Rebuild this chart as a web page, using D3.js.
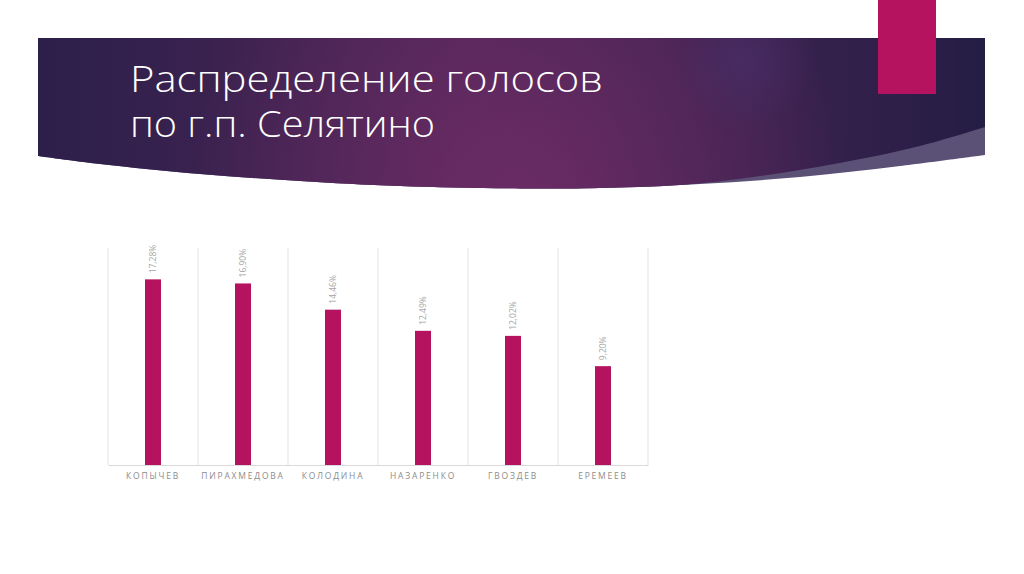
<!DOCTYPE html>
<html>
<head>
<meta charset="utf-8">
<script src="https://cdn.jsdelivr.net/npm/d3@7"></script>
<style>
  html, body { margin: 0; padding: 0; background: #fff; }
  svg { display: block; }
</style>
</head>
<body>
<script>
// chart data
var candidates = ["КОПЫЧЕВ", "ПИРАХМЕДОВА", "КОЛОДИНА", "НАЗАРЕНКО", "ГВОЗДЕВ", "ЕРЕМЕЕВ"];
var shares = [17.28, 16.90, 14.46, 12.49, 12.02, 9.20];
var shareLabels = ["17,28%", "16,90%", "14,46%", "12,49%", "12,02%", "9,20%"];
var titleLines = ["Распределение голосов", "по г.п. Селятино"];

var W = 1024, H = 574;
var svg = d3.select("body").append("svg")
    .attr("width", W)
    .attr("height", H);

var defs = svg.append("defs");

// banner gradient: dark violet at the edges, magenta glow near bottom middle
var lin = defs.append("linearGradient").attr("id", "bannerLin")
    .attr("x1", "0").attr("x2", "1").attr("y1", "0").attr("y2", "0");
lin.append("stop").attr("offset", "0").attr("stop-color", "#2c1f4a");
lin.append("stop").attr("offset", "0.45").attr("stop-color", "#4f2657");
lin.append("stop").attr("offset", "0.75").attr("stop-color", "#3c2250");
lin.append("stop").attr("offset", "1").attr("stop-color", "#241d44");

var glow = defs.append("radialGradient").attr("id", "bannerGlow")
    .attr("gradientUnits", "userSpaceOnUse")
    .attr("cx", 520).attr("cy", 200).attr("r", 330);
glow.append("stop").attr("offset", "0").attr("stop-color", "#6e2c66").attr("stop-opacity", 0.9);
glow.append("stop").attr("offset", "1").attr("stop-color", "#6e2c66").attr("stop-opacity", 0);

var spot = defs.append("radialGradient").attr("id", "bannerSpot")
    .attr("gradientUnits", "userSpaceOnUse")
    .attr("cx", 745).attr("cy", 60).attr("r", 70);
spot.append("stop").attr("offset", "0").attr("stop-color", "#47306b").attr("stop-opacity", 0.6);
spot.append("stop").attr("offset", "1").attr("stop-color", "#47306b").attr("stop-opacity", 0);

// banner shape
var edge = d3.line().curve(d3.curveCatmullRom);
var outerBottom = [[985,155],[900,166],[800,177],[700,184],[600,188],[533,188.5],[400,186],[300,181],[200,174],[100,164],[38,156]];
var innerBottom = [[985,127],[920,146],[850,161],[760,176],[680,185],[600,188],[533,188.5],[400,186],[300,181],[200,174],[100,164],[38,156]];

function banner(pts) {
  return "M38,38L985,38L" + edge(pts).slice(1) + "Z";
}

svg.append("path").attr("d", banner(outerBottom)).attr("fill", "#5b5075");
svg.append("path").attr("d", banner(innerBottom)).attr("fill", "url(#bannerLin)");
svg.append("path").attr("d", banner(innerBottom)).attr("fill", "url(#bannerGlow)");
svg.append("path").attr("d", banner(innerBottom)).attr("fill", "url(#bannerSpot)");

// pink tab at the top right
svg.append("rect")
    .attr("x", 878).attr("y", 0)
    .attr("width", 58).attr("height", 94)
    .attr("fill", "#b5135f");

// title
var titleWidths = [473, 305];
svg.selectAll(".title")
    .data(titleLines)
  .enter().append("text")
    .attr("class", "title")
    .attr("x", 130)
    .attr("y", function(d, i) { return 92 + i * 45; })
    .attr("textLength", function(d, i) { return titleWidths[i]; })
    .attr("lengthAdjust", "spacingAndGlyphs")
    .attr("fill", "#ffffff")
    .style("font-family", "'Open Sans', 'DejaVu Sans', sans-serif")
    .style("font-weight", 300)
    .style("font-size", "36px")
    .text(function(d) { return d; });

// chart area
var plotLeft = 108, plotRight = 648, plotTop = 248, plotBottom = 465;

var x = d3.scaleBand()
    .domain(candidates)
    .range([plotLeft, plotRight])
    .paddingInner(0)
    .paddingOuter(0);

var y = d3.scaleLinear()
    .domain([0, 20.2])
    .range([plotBottom, plotTop]);

var barW = 16;

// vertical separators between categories
var seps = [plotLeft].concat(candidates.map(function(c) { return x(c) + x.bandwidth(); }));
svg.selectAll(".sep")
    .data(seps)
  .enter().append("line")
    .attr("class", "sep")
    .attr("x1", function(d) { return d; })
    .attr("x2", function(d) { return d; })
    .attr("y1", plotTop)
    .attr("y2", plotBottom)
    .attr("stroke", "#e3e3e3")
    .attr("stroke-width", 1);

svg.selectAll(".bar")
    .data(shares)
  .enter().append("rect")
    .attr("class", "bar")
    .attr("x", function(d, i) { return x(candidates[i]) + x.bandwidth() / 2 - barW / 2; })
    .attr("width", barW)
    .attr("y", function(d) { return y(d); })
    .attr("height", function(d) { return plotBottom - y(d); })
    .attr("fill", "#b5135f");

// x axis
var xAxis = svg.append("g")
    .attr("transform", "translate(0," + plotBottom + ")")
    .call(d3.axisBottom(x).tickSize(0).tickPadding(8));
xAxis.select(".domain").attr("stroke", "#d9d9d9");
xAxis.selectAll("text")
    .attr("fill", "#8c8c8c")
    .style("font-family", "'Open Sans', 'DejaVu Sans', sans-serif")
    .style("font-size", "8.5px")
    .style("letter-spacing", "1.8px");

// value labels, rotated
svg.selectAll(".val")
    .data(shares)
  .enter().append("text")
    .attr("class", "val")
    .attr("transform", function(d, i) {
      var cx = x(candidates[i]) + x.bandwidth() / 2;
      return "translate(" + (cx + 3) + "," + (y(d) - 6) + ") rotate(-90)";
    })
    .attr("fill", "#a6a6a6")
    .style("font-family", "'Open Sans', 'DejaVu Sans', sans-serif")
    .style("font-size", "8.5px")
    .text(function(d, i) { return shareLabels[i]; });
</script>
</body>
</html>
